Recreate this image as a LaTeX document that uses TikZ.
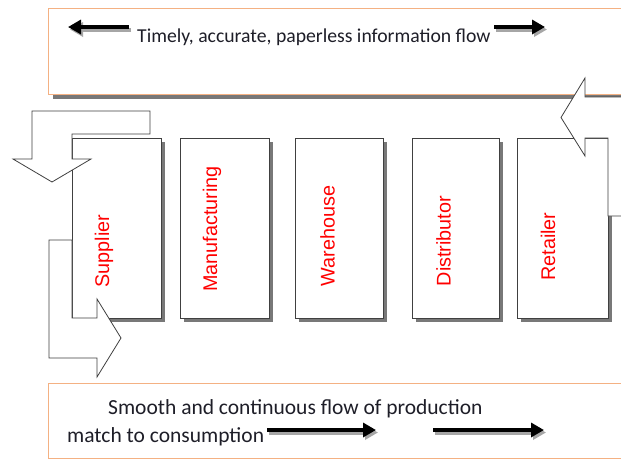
\documentclass[tikz,border=0pt]{standalone}
\usepackage{fontspec}
\newfontfamily\calib{Carlito}
\newfontfamily\arialf{Liberation Sans}
\usetikzlibrary{arrows.meta,shadows}
\definecolor{orangeb}{RGB}{244,177,131}
\definecolor{boxline}{RGB}{64,64,64}
\definecolor{shadowgray}{RGB}{120,120,120}
\definecolor{txt}{RGB}{30,30,40}
\tikzset{
  infobox/.style={draw=orangeb, line width=1pt, fill=white, anchor=north west, inner sep=0pt},
  procbox/.style={draw=boxline, line width=0.9pt, fill=white, anchor=north west, inner sep=0pt,
    minimum width=89pt, minimum height=180pt,
    drop shadow={opacity=1, fill=shadowgray, shadow xshift=4pt, shadow yshift=-4pt}},
  proclabel/.style={text=red, rotate=90, inner sep=0pt, font=\arialf\fontsize{19.8}{21}\selectfont},
  bentarrow/.style={draw=boxline, line width=0.8pt, fill=white, line join=miter},
  fatarrow/.style={line width=4pt, -{Triangle[length=13pt,width=14pt]}},
  fatshadow/.style={fatarrow, draw=gray!70, color=gray!70},
  flowtext/.style={text=txt, inner sep=0pt, anchor=base west, font=\calib\fontsize{19.7}{23}\selectfont},
  flowtextb/.style={flowtext, font=\calib\fontsize{21.5}{24}\selectfont}
}
\begin{document}
\begin{tikzpicture}[x=1pt,y=-1pt]
\useasboundingbox (0,0) rectangle (621,459);
\clip (0,0) rectangle (621,459);
\fill[white] (0,0) rectangle (621,459);

% top information box with shadow
\fill[shadowgray] (53,94) rectangle (660,98.5);
\node[infobox, minimum width=600pt, minimum height=86.5pt] (top) at (48,7.5) {};
% bottom production box
\node[infobox, minimum width=600pt, minimum height=75pt] (bottom) at (48,383) {};

% process boxes
\node[procbox] (sup) at (72,138) {};
\node[procbox] (man) at (180,137.5) {};
\node[procbox, minimum width=88pt] (war) at (295,137.5) {};
\node[procbox, minimum width=87pt] (dis) at (412,137.5) {};
\node[procbox, minimum width=91pt] (ret) at (517,137.5) {};

\node[proclabel] (supl) at (104,251) {Supplier};
\node[proclabel] (manl) at (212,229) {Manufacturing};
\node[proclabel] (warl) at (327.5,236) {Warehouse};
\node[proclabel] (disl) at (443.5,241) {Distributor};
\node[proclabel] (retl) at (548,246.5) {Retailer};

% bent arrows
\draw[bentarrow] (150,111) -- (32,111) -- (32,159) -- (13,159) -- (52,182)
  -- (91,159) -- (72,159) -- (72,134) -- (150,134) -- cycle;
\draw[bentarrow] (72,240) -- (49,240) -- (49,358) -- (97,358) -- (97,377)
  -- (121,338) -- (97,299) -- (97,318) -- (72,318) -- cycle;
\draw[bentarrow] (640,97) -- (585,97) -- (585,78) -- (561,117.5) -- (585,156)
  -- (585,138) -- (608,138) -- (608,216) -- (640,216);

% texts
\node[flowtext] (t1) at (137,42) {Timely, accurate, paperless information flow};
\node[flowtextb] (b1) at (108,414) {Smooth and continuous flow of production};
\node[flowtextb] (b2) at (67,442) {match to consumption};

% fat arrows
\coordinate (a1s) at (129,27); \coordinate (a1e) at (68,27);
\coordinate (a2s) at (494,27); \coordinate (a2e) at (545,27);
\coordinate (a3s) at (267,430); \coordinate (a3e) at (376,430);
\coordinate (a4s) at (433,430); \coordinate (a4e) at (544,430);
\foreach \s/\e in {a1s/a1e,a2s/a2e,a3s/a3e,a4s/a4e}{
  \draw[fatshadow] ([shift={(2,2.5)}]\s) -- ([shift={(2,2.5)}]\e);
  \draw[fatarrow] (\s) -- (\e);
}
\end{tikzpicture}
\end{document}
